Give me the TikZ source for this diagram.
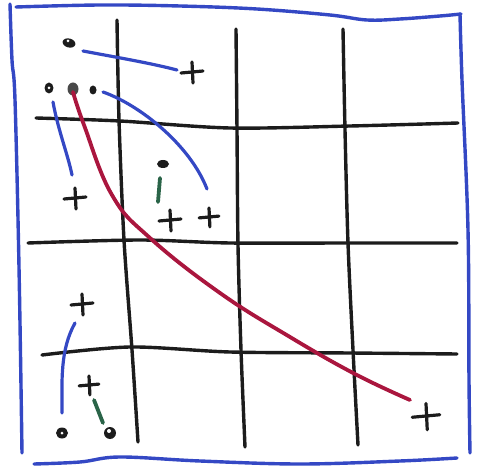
\documentclass[tikz,border=0pt]{standalone}
\usetikzlibrary{calc,shapes.geometric}
\definecolor{penblue}{RGB}{52,72,196}
\definecolor{penred}{RGB}{170,22,62}
\definecolor{pengreen}{RGB}{42,100,72}
\definecolor{penblack}{RGB}{28,28,28}
\tikzset{
  frame/.style={draw=penblue,line width=3.4pt,line cap=round,line join=round},
  gridline/.style={draw=penblack,line width=3.4pt,line cap=round},
  blueline/.style={draw=penblue,line width=3.2pt,line cap=round},
  redline/.style={draw=penred,line width=3.8pt,line cap=round},
  greenline/.style={draw=pengreen,line width=3.8pt,line cap=round},
  plusmark/.pic={\draw[draw=penblack,line width=3.2pt,line cap=round] (-11,1) -- (11,-1) (0,-10) -- (1,11);},
  dotmark/.style={ellipse,fill=penblack,inner sep=0pt,minimum width=12pt,minimum height=11pt},
  holemark/.style={circle,fill=white,inner sep=0pt,minimum size=3pt}
}
\begin{document}
\begin{tikzpicture}[x=1pt,y=-1pt]
\useasboundingbox (0,0) rectangle (477,473);
% frame
\draw[frame] plot[smooth,tension=0.6] coordinates {(16,7) (100,5) (180,6) (257,9) (330,15) (367,20) (400,19) (440,16) (461,14)};
\draw[frame] plot[smooth,tension=0.6] coordinates {(10,4) (12,60) (15,100) (19,267) (22,453)};
\draw[frame] plot[smooth,tension=0.6] coordinates {(460,14) (462,80) (468,230) (469,380) (470,453)};
\draw[frame] plot[smooth,tension=0.6] coordinates {(34,464) (80,462) (120,457) (200,461) (300,464) (400,461) (457,458)};
% grid
\draw[gridline] plot[smooth,tension=0.5] coordinates {(117,20) (119,120) (124,240) (132,350) (138,442)};
\draw[gridline] plot[smooth,tension=0.5] coordinates {(236,29) (237,130) (238,245) (241,350) (245,447)};
\draw[gridline] plot[smooth,tension=0.5] coordinates {(343,29) (345,130) (348,243) (353,350) (358,445)};
\draw[gridline] plot[smooth,tension=0.5] coordinates {(36,118) (120,121) (230,128) (350,126) (458,123)};
\draw[gridline] plot[smooth,tension=0.5] coordinates {(28,243) (140,240) (230,243) (350,243) (457,243)};
\draw[gridline] plot[smooth,tension=0.5] coordinates {(42,355) (130,347) (230,352) (350,353) (457,354)};
% dots
\node[dotmark,minimum width=13pt,minimum height=9pt,rotate=-15] (d0) at (69,43) {};
\node[holemark,minimum size=3pt] at (68,41) {};
\node[dotmark,minimum width=9pt,minimum height=11pt] (d1) at (49,88) {};
\node[holemark] at (49,88) {};
\node[dotmark,fill=penblack!80,minimum width=11pt,minimum height=13pt] (d2) at (73,89) {};
\node[dotmark,minimum width=7pt,minimum height=9pt] (d3) at (93,90) {};
\node[dotmark,minimum width=12pt,minimum height=8pt] (d4) at (163,164) {};
\node[dotmark] (d5) at (62,433) {};
\node[holemark] at (62,433) {};
\node[dotmark,minimum width=12pt,minimum height=12pt] (d6) at (110,433) {};
\node[holemark,minimum size=4pt] at (109,431) {};
% pluses
\pic at (192,72) {plusmark};
\pic at (75,198) {plusmark};
\pic at (170,220) {plusmark};
\pic[scale=0.9] at (209,217) {plusmark};
\pic at (82,304) {plusmark};
\pic[scale=0.9] at (89,385) {plusmark};
\pic[scale=1.25] at (426,416) {plusmark};
% curves
\coordinate (b1s) at (83,51); \coordinate (b1e) at (177,70);
\draw[blueline] (b1s) .. controls (120,58) and (150,63) .. (b1e);
\coordinate (b2s) at (103,92); \coordinate (b2e) at (207,189);
\draw[blueline] (b2s) .. controls (140,105) and (190,145) .. (b2e);
\coordinate (b3s) at (53,102); \coordinate (b3e) at (72,175);
\draw[blueline] (b3s) .. controls (58,130) and (68,155) .. (b3e);
\coordinate (b4s) at (75,323); \coordinate (b4e) at (62,413);
\draw[blueline] (b4s) .. controls (60,350) and (62,380) .. (b4e);
\draw[redline] plot[smooth,tension=0.7] coordinates {(73,92) (84,125) (112,195) (150,238) (220,293) (290,337) (355,374) (410,400)};
\draw[greenline] (160,178) -- (158,202);
\draw[greenline] (94,400) -- (103,423);
\end{tikzpicture}
\end{document}
